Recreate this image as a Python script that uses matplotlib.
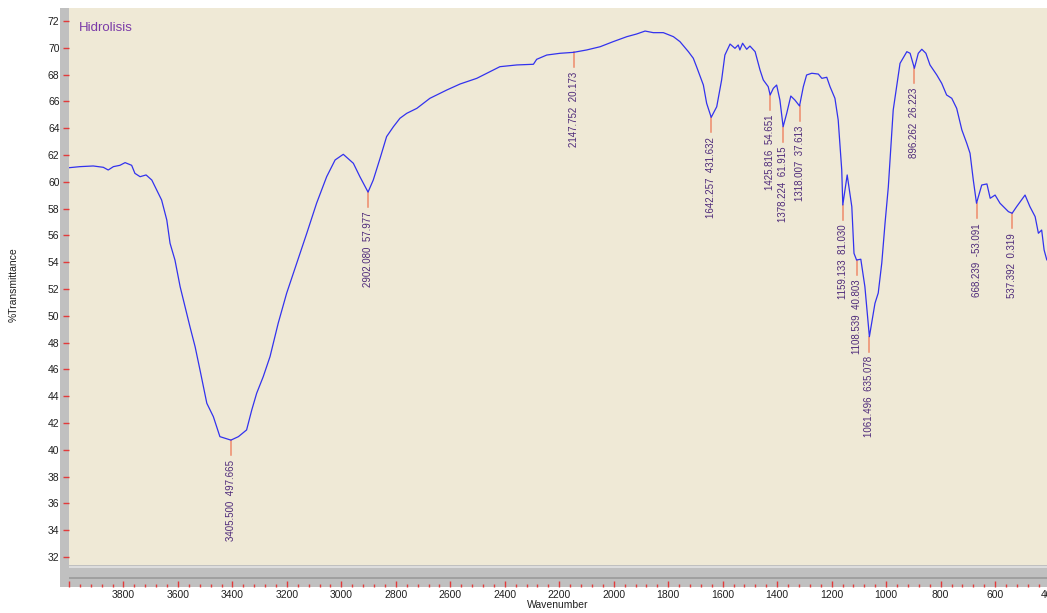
import numpy as np
import matplotlib
matplotlib.use("Agg")
import matplotlib.pyplot as plt
from matplotlib.ticker import FixedLocator, MultipleLocator, FuncFormatter

plt.rcParams['font.family'] = ['Liberation Sans', 'DejaVu Sans']

# FTIR spectrum: wavenumber (cm-1) and % transmittance
wavenumber = [
    4000, 3960, 3911, 3874, 3856, 3837, 3813, 3794, 3770, 3758, 3739, 3717, 3696,
    3678, 3660, 3641, 3629, 3611, 3592, 3574, 3556, 3537, 3519, 3494, 3470, 3446,
    3427, 3405.5, 3378, 3348, 3329, 3311, 3287, 3262, 3232, 3201, 3164, 3127, 3091,
    3054, 3023, 2993, 2956, 2932, 2902.08, 2883, 2858, 2834, 2809, 2785, 2760, 2723,
    2675, 2613, 2564, 2503, 2466, 2418, 2356, 2295, 2283, 2246, 2197, 2147.75, 2099,
    2050, 2002, 1952, 1916, 1885, 1855, 1818, 1781, 1757, 1726, 1708, 1696, 1671,
    1659, 1642.26, 1622, 1604, 1592, 1573, 1555, 1543, 1537, 1527, 1512, 1500, 1481,
    1463, 1451, 1433, 1425.82, 1414, 1402, 1390, 1378.22, 1365, 1350, 1335, 1318.01,
    1304, 1292, 1273, 1249, 1236, 1218, 1206, 1188, 1176, 1163, 1159.13, 1143, 1126,
    1118, 1108.54, 1093, 1078, 1061.5, 1041, 1029, 1016, 1004, 992, 974, 949, 924,
    912, 896.26, 882, 869, 854, 839, 814, 796, 778, 759, 741, 722, 704, 692, 680,
    668.24, 649, 630, 618, 600, 582, 551, 537.39, 521, 490, 472, 453, 441, 429, 420,
    410, 400,
]
transmittance = [
    61.05, 61.13, 61.18, 61.08, 60.88, 61.13, 61.23, 61.43, 61.23, 60.63, 60.38, 60.51, 60.13,
    59.39, 58.64, 57.15, 55.41, 54.16, 52.17, 50.68, 49.19, 47.69, 45.95, 43.47, 42.47, 40.98,
    40.86, 40.72, 40.98, 41.48, 42.97, 44.22, 45.45, 46.95, 49.44, 51.68, 53.92, 56.16, 58.40,
    60.38, 61.63, 62.05, 61.38, 60.38, 59.23, 60.13, 61.75, 63.37, 64.11, 64.74, 65.11, 65.48,
    66.23, 66.85, 67.30, 67.72, 68.10, 68.59, 68.72, 68.77, 69.14, 69.46, 69.59, 69.66, 69.84,
    70.08, 70.46, 70.83, 71.03, 71.25, 71.13, 71.13, 70.83, 70.46, 69.71, 69.22, 68.59, 67.22,
    65.86, 64.81, 65.60, 67.60, 69.46, 70.28, 69.96, 70.21, 69.84, 70.34, 69.89, 70.13, 69.71,
    68.34, 67.60, 67.10, 66.48, 66.98, 67.22, 66.10, 64.11, 65.11, 66.40, 66.10, 65.66,
    67.10, 67.97, 68.10, 68.04, 67.72, 67.80, 67.10, 66.23, 64.61, 60.88, 58.27, 60.51, 58.14,
    54.66, 54.16, 54.22, 52.17, 48.44, 50.93, 51.70, 53.94, 56.92, 59.61, 65.36, 68.84, 69.71,
    69.59, 68.47, 69.59, 69.89, 69.59, 68.72, 67.97, 67.35, 66.48, 66.23, 65.48, 63.87, 62.87,
    62.13, 60.13, 58.40, 59.76, 59.84, 58.77, 59.01, 58.40, 57.77, 57.65, 58.14, 59.01, 58.14,
    57.40, 56.16, 56.40, 54.91, 54.16, 54.30,
]

# Peak picks: position and reported intensity
peak_wn = [3405.500, 2902.080, 2147.752, 1642.257, 1425.816, 1378.224, 1318.007,
           1159.133, 1108.539, 1061.496, 896.262, 668.239, 537.392]
peak_int = [497.665, 57.977, 20.173, 431.632, 54.651, 61.915, 37.613,
            81.030, 40.803, 635.078, 26.223, -53.091, 0.319]

y_ticks = list(range(32, 73, 2))
x_major = list(range(4000, 399, -200))

W, H = 1047, 613
fig = plt.figure(figsize=(W / 100, H / 100), dpi=100)
fig.patch.set_facecolor('white')

def px_axes(x0, y0, x1, y1, **kw):
    return fig.add_axes([x0 / W, 1 - y1 / H, (x1 - x0) / W, (y1 - y0) / H], **kw)

BEIGE = '#efe9d6'
GRAY = '#c0c0c0'
RED = '#e23b3b'

# left gray strip
strip = px_axes(60, 8, 69, 587)
strip.set_facecolor(GRAY)
strip.set_xticks([]); strip.set_yticks([])
for s in strip.spines.values():
    s.set_visible(False)

# bottom gray band carrying the x ticks
band = px_axes(69, 565, 1050, 587)
band.set_facecolor(GRAY)
band.set_xlim(4000, 398.4)
band.set_ylim(0, 1)
band.axhline(0.91, color='#e4e4e4', lw=1.2)
band.axhline(0.41, color='#9a9a9a', lw=1.2)
band.set_yticks([])
for s in band.spines.values():
    s.set_visible(False)
band.xaxis.set_major_locator(FixedLocator(x_major))
band.xaxis.set_minor_locator(MultipleLocator(40))
band.xaxis.set_major_formatter(FuncFormatter(lambda v, p: '' if v >= 4000 else f'{int(v)}'))
band.tick_params(axis='x', which='major', direction='in', length=4.3, width=1,
                 color=RED, labelsize=7.5, pad=2.5, labelcolor='#202020')
band.tick_params(axis='x', which='minor', direction='in', length=2.2, width=1, color=RED)

# main spectrum panel
ax = px_axes(69, 8, 1050, 565)
ax.set_facecolor(BEIGE)
ax.set_xlim(4000, 398.4)
ax.set_ylim(31.4, 72.97)
for s in ax.spines.values():
    s.set_visible(False)
ax.set_xticks([])
ax.set_yticks(y_ticks)
ax.tick_params(axis='y', direction='out', length=4.6, width=1, color=RED,
               labelsize=7.5, pad=2.2, labelcolor='#202020')

ax.plot(wavenumber, transmittance, color='#3232ee', lw=0.9, zorder=3)

wn_rev = np.array(wavenumber)[::-1]
tr_rev = np.array(transmittance)[::-1]
line_len = 15 / 13.4
for w, val in zip(peak_wn, peak_int):
    t = np.interp(w, wn_rev, tr_rev)
    ax.plot([w, w], [t, t - line_len], color='#ee8a6a', lw=1.1, zorder=2)
    ax.text(w, t - line_len - 0.35, f'{w:.3f}  {val:.3f}', rotation=90,
            ha='center', va='top', fontsize=7, color='#4e2a7a', zorder=4)

ax.text(79 / W, 1 - 28 / H, 'Hidrolisis', transform=fig.transFigure,
        ha='left', va='center', fontsize=9.5, color='#7a3aa8')

fig.text(14 / W, 1 - 285 / H, '%Transmittance', rotation=90,
         ha='center', va='center', fontsize=7.5, color='#202020')
fig.text(558 / W, 1 - 605 / H, 'Wavenumber', ha='center', va='center',
         fontsize=7.5, color='#202020')

fig.savefig('out.png', dpi=100)
